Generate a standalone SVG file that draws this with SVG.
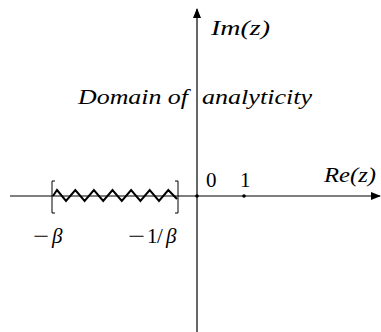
<svg xmlns="http://www.w3.org/2000/svg" width="381" height="332" viewBox="0 0 381 332">
<style>
.ax{stroke:#000;stroke-width:1.2;fill:none}
.br{stroke:#000;stroke-width:1;fill:none}
.zz{stroke:#000;stroke-width:2;fill:none;stroke-linejoin:miter}
.m{font-family:"Liberation Serif",serif;font-style:italic;font-size:21px;fill:#000}
.r{font-family:"Liberation Serif",serif;font-size:21px;fill:#000}
</style>
<defs>
<marker id="ah" markerWidth="10" markerHeight="8" refX="9" refY="4" orient="auto" markerUnits="userSpaceOnUse">
<path d="M0,0 L10,4 L0,8 Z" fill="#000"/>
</marker>
</defs>
<rect width="381" height="332" fill="#fff"/>
<g id="connectors">
<line class="ax" x1="10" y1="196" x2="380" y2="196" marker-end="url(#ah)"/>
<line class="ax" x1="197" y1="332" x2="197" y2="9" marker-end="url(#ah)"/>
</g>
<g id="cut">
<path class="br" d="M55,181 H52 V213 H55"/>
<path class="br" d="M175,181 H178 V213 H175"/>
<path class="zz" d="M53,196 L57,190 L66,201 L75.3,190 L84.6,201 L93.9,190 L103.2,201 L112.5,190 L121.8,201 L131.1,190 L140.4,201 L149.7,190 L159,201 L168.3,190 L177,199"/>
</g>
<g id="points">
<circle cx="197" cy="196" r="1.8" fill="#000"/>
<circle cx="244" cy="196" r="1.8" fill="#000"/>
</g>
<g id="labels">
<text class="m" x="211" y="35" textLength="59" lengthAdjust="spacingAndGlyphs">Im(z)</text>
<text class="m" y="104"><tspan x="78" textLength="110" lengthAdjust="spacingAndGlyphs">Domain of</tspan><tspan x="202" textLength="110" lengthAdjust="spacingAndGlyphs">analyticity</tspan></text>
<text class="r" x="206" y="187">0</text>
<text class="r" x="240" y="187">1</text>
<text class="m" x="324" y="182" textLength="52" lengthAdjust="spacingAndGlyphs">Re(z)</text>
<text class="r" y="243"><tspan x="33" textLength="16" lengthAdjust="spacingAndGlyphs">−</tspan><tspan x="52" font-style="italic">β</tspan></text>
<text class="r" y="243"><tspan x="128" textLength="17" lengthAdjust="spacingAndGlyphs">−</tspan><tspan x="147">1</tspan><tspan x="157">/</tspan><tspan x="166" font-style="italic">β</tspan></text>
</g>
</svg>
